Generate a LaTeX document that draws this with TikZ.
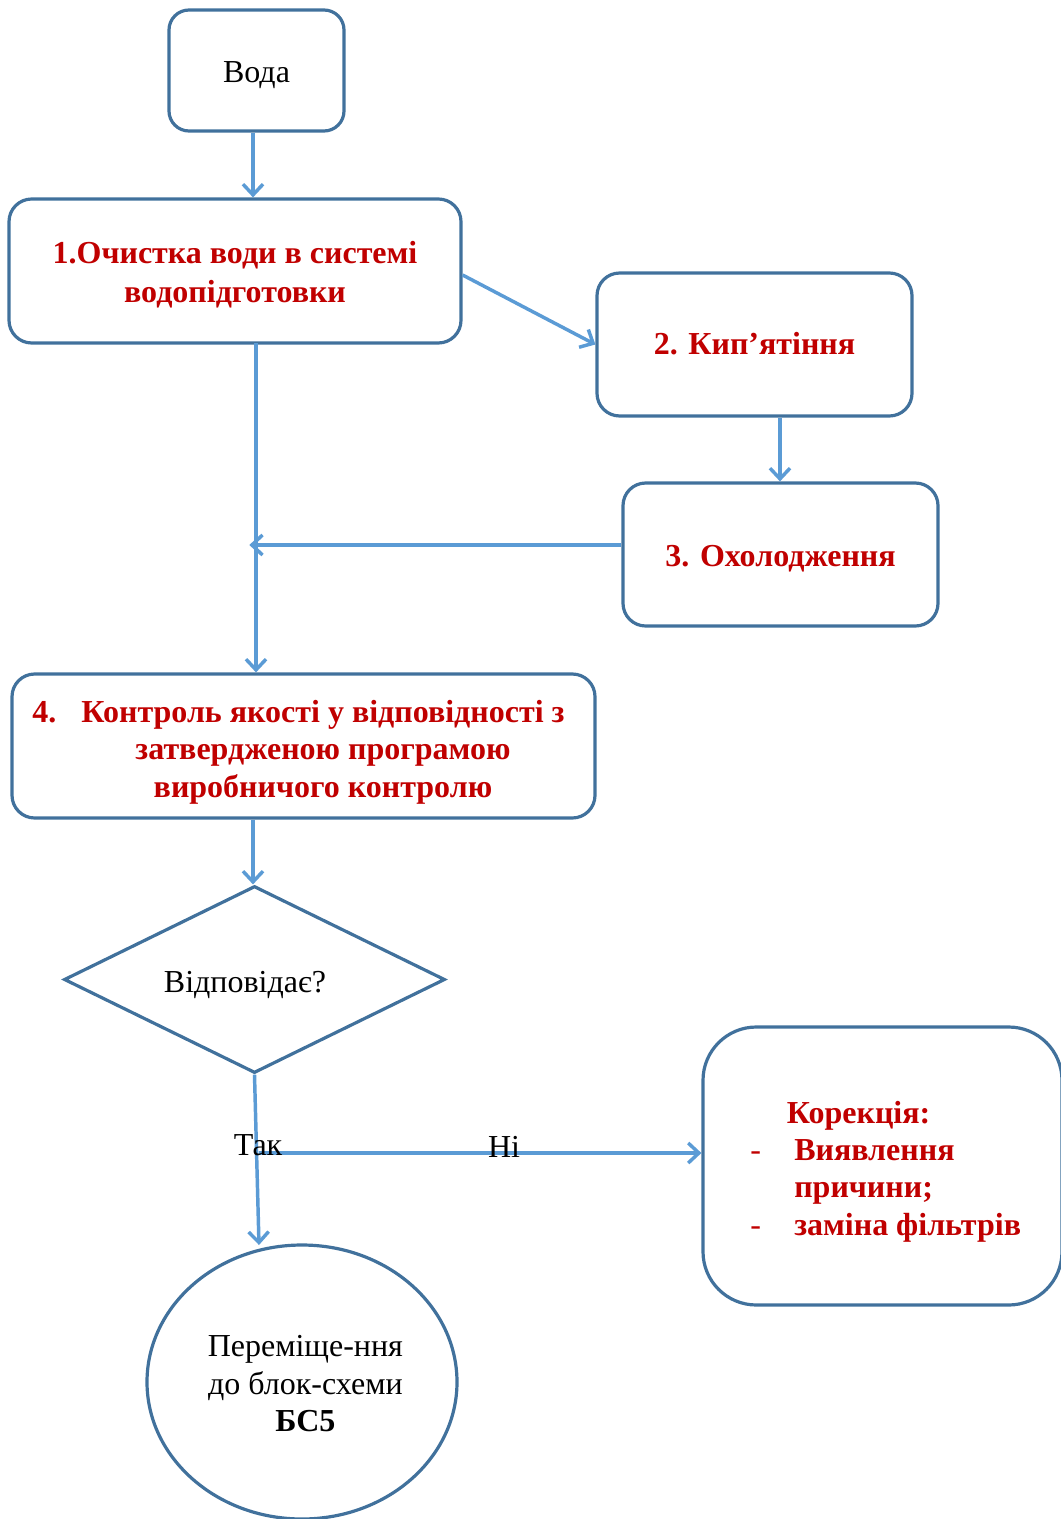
\documentclass[tikz,border=0pt]{standalone}
\usepackage{fontspec}
\setmainfont{Liberation Serif}
\usetikzlibrary{shapes.geometric,arrows.meta}
\definecolor{bord}{HTML}{41719C}
\definecolor{arrc}{HTML}{5B9BD5}
\definecolor{redt}{HTML}{C00000}
\newcommand{\lowr}[2]{\raisebox{-#1}[\height][\depth]{\begin{tabular}{@{}c@{}}#2\end{tabular}}}
\begin{document}
\begin{tikzpicture}[x=0.75pt,y=-0.75pt,
  every node/.style={font=\fontsize{24pt}{28pt}\selectfont},
  box/.style={draw=bord,line width=2.4pt,rounded corners=17pt,inner sep=0pt,align=center},
  redtxt/.style={text=redt,font=\fontsize{24pt}{28pt}\selectfont\bfseries,align=center},
  arr/.style={draw=arrc,line width=2.6pt,-{Straight Barb[length=8pt,width=15pt]}},
  lbl/.style={inner sep=0pt}]
\useasboundingbox (0,0) rectangle (1060,1519);

\node[box,rounded corners=15pt,minimum width=131.25pt,minimum height=90.75pt] (voda) at (256.5,70.5) {\lowr{3.75pt}{Вода}};
\node[box,redtxt,font=\fontsize{24pt}{29pt}\selectfont\bfseries,minimum width=339pt,minimum height=108pt] (b1) at (235,271) {\lowr{3pt}{1.Очистка води в системі\\водопідготовки}};
\node[box,redtxt,minimum width=236.25pt,minimum height=107.25pt] (b2) at (754.5,344.5) {\lowr{2pt}{2. Кип’ятіння}};
\node[box,redtxt,minimum width=236.25pt,minimum height=107.25pt] (b3) at (780.5,554.5) {\lowr{3.5pt}{3. Охолодження}};
\node[box,minimum width=437.25pt,minimum height=108pt] (b4) at (303.5,746) {};
\node[redtxt,inner sep=0pt] (b4t) at (323,752) {\llap{4.\hspace{18.75pt}}Контроль якості у відповідності з\\затвердженою програмою\\виробничого контролю};
\node[diamond,draw=bord,line width=2.4pt,minimum width=285.75pt,minimum height=140.25pt,inner sep=0pt] (dec) at (254.5,979.5) {};
\node[lbl] (dect) at (245,985) {Відповідає?};
\node[box,rounded corners=40pt,minimum width=269.25pt,minimum height=208.5pt] (corr) at (882.5,1166) {};
\node[lbl,anchor=base west,text=redt] (corrt) at (750,1123) {\begin{tabular}[t]{@{}p{33pt}@{}l@{}}
\multicolumn{2}{@{\hspace{27.5pt}}l@{}}{\bfseries Корекція:}\\
- & \bfseries Виявлення\\
  & \bfseries причини;\\
- & \bfseries заміна фільтрів
\end{tabular}};
\node[ellipse,draw=bord,line width=2.4pt,minimum width=232.5pt,minimum height=205.5pt,inner sep=0pt,align=center] (ell) at (302,1382) {\hspace{5pt}\lowr{3.5pt}{Переміще-ння\\до блок-схеми\\\textbf{БС5}}};

\coordinate (v1) at (256,343);
\coordinate (j) at (256,545);
\coordinate (br) at (258.5,1153);
\coordinate (t) at (259,1245);

\draw[arr] ([xshift=-2.625pt]voda.south) -- ([xshift=-2.625pt]voda.south |- b1.north);
\draw[arr] ([yshift=-3pt]b1.east) -- (b2.west);
\draw[arr] ([xshift=-0.375pt]b2.south -| b3.north) -- ([xshift=-0.375pt]b3.north);
\draw[arr] (b3.west |- j) -- ([xshift=-5pt]j);
\draw[arr] (v1) -- (v1 |- b4.north);
\draw[arr] ([xshift=-1.125pt]b4.south -| dec.north) -- ([xshift=-1.125pt]dec.north);
\draw[arr] (dec.south) -- (t);
\draw[arr] (br) -- (br -| corr.west);

\node[lbl] (tak) at (258,1145) {Так};
\node[lbl] (ni) at (504,1147) {Ні};
\end{tikzpicture}
\end{document}
